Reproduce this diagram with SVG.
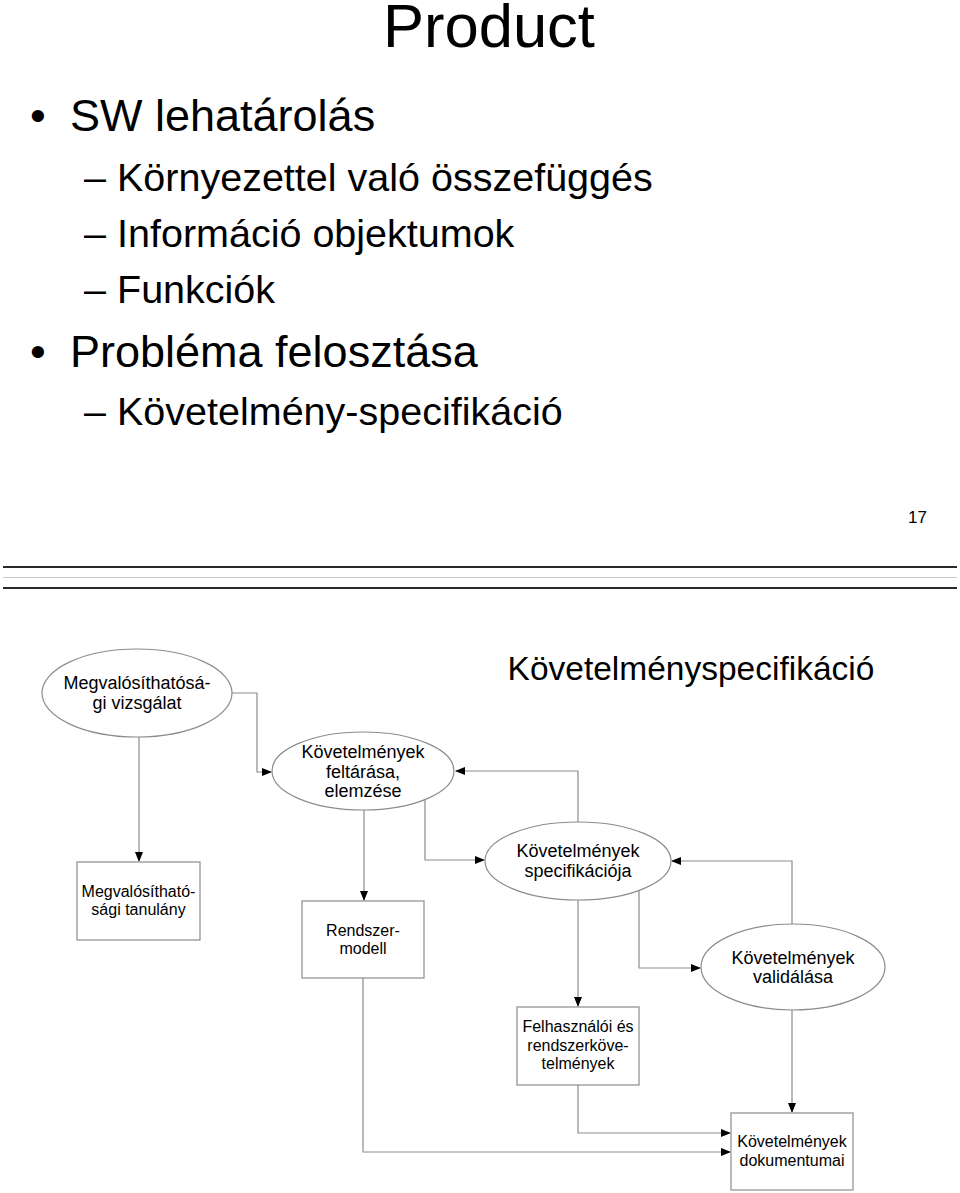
<svg xmlns="http://www.w3.org/2000/svg" width="960" height="1193" viewBox="0 0 960 1193">
<style>
text{font-family:"Liberation Sans",Arial,sans-serif;fill:#000}
.big{font-size:45px}
.sub{font-size:39.5px}
.node{fill:#fff;stroke:#8c8c8c;stroke-width:1.2}
.el{font-size:18px;text-anchor:middle}
.bx{font-size:16px;text-anchor:middle}
.conn{fill:none;stroke:#8c8c8c;stroke-width:1.2}
</style>
<defs>
<marker id="ah" markerWidth="10" markerHeight="8" refX="9" refY="4" orient="auto" markerUnits="userSpaceOnUse">
<path d="M0,0 L10,4 L0,8 Z" fill="#000"/>
</marker>
</defs>
<rect width="960" height="1193" fill="#fff"/>
<g id="slide-top">
<text x="383" y="47" style="font-size:61.5px">Product</text>
<text x="30" y="131" class="big">•</text>
<text x="70" y="131" class="big">SW lehatárolás</text>
<text x="84" y="191" class="sub">–</text>
<text x="117" y="191" class="sub">Környezettel való összefüggés</text>
<text x="84" y="247" class="sub">–</text>
<text x="117" y="247" class="sub">Információ objektumok</text>
<text x="84" y="303" class="sub">–</text>
<text x="117" y="303" class="sub">Funkciók</text>
<text x="30" y="367" class="big">•</text>
<text x="70" y="367" class="big">Probléma felosztása</text>
<text x="84" y="425" class="sub">–</text>
<text x="117" y="425" class="sub">Követelmény-specifikáció</text>
<text x="927" y="523" style="font-size:17px;text-anchor:end">17</text>
<line x1="3" y1="567" x2="957" y2="567" stroke="#2a2a2a" stroke-width="2"/>
<line x1="3" y1="577.5" x2="957" y2="577.5" stroke="#c8c8c8" stroke-width="1"/>
<line x1="3" y1="588" x2="957" y2="588" stroke="#2a2a2a" stroke-width="2"/>
<text x="691" y="680" style="font-size:33.5px;text-anchor:middle">Követelményspecifikáció</text>
</g>
<g id="connectors">
<polyline class="conn" points="232,693 257,693 257,772 271,772" marker-end="url(#ah)"/>
<polyline class="conn" points="139,737 139,861" marker-end="url(#ah)"/>
<polyline class="conn" points="364,810 364,900" marker-end="url(#ah)"/>
<polyline class="conn" points="425,800 425,860 484,860" marker-end="url(#ah)"/>
<polyline class="conn" points="578,822 578,771 456,771" marker-end="url(#ah)"/>
<polyline class="conn" points="639,890 639,968 700,968" marker-end="url(#ah)"/>
<polyline class="conn" points="792,925 792,861 672,861" marker-end="url(#ah)"/>
<polyline class="conn" points="578,900 578,1006" marker-end="url(#ah)"/>
<polyline class="conn" points="363,978 363,1152 730,1152" marker-end="url(#ah)"/>
<polyline class="conn" points="578,1085 578,1133 730,1133" marker-end="url(#ah)"/>
<polyline class="conn" points="792,1010 792,1112" marker-end="url(#ah)"/>
</g>
<g id="n-vizsgalat">
<ellipse class="node" cx="137" cy="693" rx="95" ry="44"/>
<text class="el" x="137" y="689">Megvalósíthatósá-</text>
<text class="el" x="137" y="709">gi vizsgálat</text>
</g>
<g id="n-feltarasa">
<ellipse class="node" cx="363" cy="771" rx="91" ry="39"/>
<text class="el" x="363" y="758">Követelmények</text>
<text class="el" x="363" y="778">feltárása,</text>
<text class="el" x="363" y="797">elemzése</text>
</g>
<g id="n-tanulany">
<rect class="node" x="77" y="862" width="123" height="78"/>
<text class="bx" x="138.5" y="897">Megvalósítható-</text>
<text class="bx" x="138.5" y="915">sági tanulány</text>
</g>
<g id="n-rendszermodell">
<rect class="node" x="302" y="901" width="122" height="77"/>
<text class="bx" x="363" y="936">Rendszer-</text>
<text class="bx" x="363" y="954">modell</text>
</g>
<g id="n-specifikacio">
<ellipse class="node" cx="578" cy="861" rx="93" ry="39"/>
<text class="el" x="578" y="857">Követelmények</text>
<text class="el" x="578" y="877">specifikációja</text>
</g>
<g id="n-validalas">
<ellipse class="node" cx="793" cy="967" rx="92" ry="43"/>
<text class="el" x="793" y="964">Követelmények</text>
<text class="el" x="793" y="983">validálása</text>
</g>
<g id="n-felhasznaloi">
<rect class="node" x="517" y="1007" width="122" height="78"/>
<text class="bx" x="578" y="1032">Felhasználói és</text>
<text class="bx" x="578" y="1051">rendszerköve-</text>
<text class="bx" x="578" y="1069">telmények</text>
</g>
<g id="n-dokumentumai">
<rect class="node" x="731" y="1113" width="122" height="77"/>
<text class="bx" x="792" y="1147">Követelmények</text>
<text class="bx" x="792" y="1166">dokumentumai</text>
</g>
</svg>
